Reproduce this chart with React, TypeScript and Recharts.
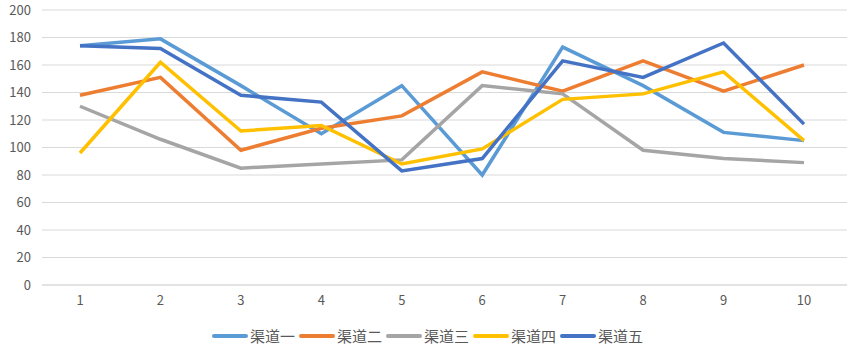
import {
  LineChart,
  Line,
  XAxis,
  YAxis,
  CartesianGrid,
  Legend,
} from "recharts";

const categories = ["1", "2", "3", "4", "5", "6", "7", "8", "9", "10"];

const channel1 = [174, 179, 145, 110, 145, 80, 173, 145, 111, 105];
const channel2 = [138, 151, 98, 114, 123, 155, 141, 163, 141, 160];
const channel3 = [130, 106, 85, 88, 91, 145, 139, 98, 92, 89];
const channel4 = [96, 162, 112, 116, 88, 99, 135, 139, 155, 105];
const channel5 = [174, 172, 138, 133, 83, 92, 163, 151, 176, 117];

const yTicks = [0, 20, 40, 60, 80, 100, 120, 140, 160, 180, 200];

const SERIES = [
  { key: "c1", name: "渠道一", color: "#5b9bd5", values: channel1 },
  { key: "c2", name: "渠道二", color: "#ed7d31", values: channel2 },
  { key: "c3", name: "渠道三", color: "#a5a5a5", values: channel3 },
  { key: "c4", name: "渠道四", color: "#ffc000", values: channel4 },
  { key: "c5", name: "渠道五", color: "#4472c4", values: channel5 },
];

const data = categories.map((cat, i) => {
  const row: Record<string, string | number> = { cat };
  SERIES.forEach((s) => {
    row[s.key] = s.values[i];
  });
  return row;
});

const FONT = "'Noto Sans CJK SC', 'Noto Sans', sans-serif";

// keep the legend in series order (recharts sorts its payload)
function LegendContent() {
  return (
    <div
      style={{
        display: "flex",
        justifyContent: "center",
        alignItems: "center",
        fontFamily: FONT,
        fontSize: 15,
        color: "#595959",
        paddingLeft: 10,
      }}
    >
      {SERIES.map((s) => (
        <div
          key={s.key}
          style={{ display: "flex", alignItems: "center", marginRight: 3 }}
        >
          <svg width={38} height={10}>
            <line
              x1={3}
              y1={5}
              x2={35}
              y2={5}
              stroke={s.color}
              strokeWidth={4}
              strokeLinecap="round"
            />
          </svg>
          <span style={{ marginLeft: 1 }}>{s.name}</span>
        </div>
      ))}
    </div>
  );
}

export default function App() {
  return (
    <div style={{ position: "absolute", left: 0, top: 0, background: "#fff" }}>
      <LineChart
        width={849}
        height={354}
        data={data}
        margin={{ top: 10, right: 2, bottom: 0, left: 0 }}
      >
        <CartesianGrid vertical={false} stroke="#d9d9d9" />
        <XAxis
          dataKey="cat"
          axisLine={{ stroke: "#d9d9d9" }}
          tickLine={false}
          tickSize={0}
          tickMargin={11}
          height={40}
          padding={{ left: 38, right: 43 }}
          interval={0}
          tick={{ fill: "#595959", fontSize: 13, fontFamily: FONT }}
        />
        <YAxis
          domain={[0, 200]}
          ticks={yTicks}
          axisLine={false}
          tickLine={false}
          tickSize={0}
          tickMargin={11}
          width={42}
          interval={0}
          tick={{ fill: "#595959", fontSize: 13, fontFamily: FONT }}
        />
        <Legend verticalAlign="bottom" height={29} content={<LegendContent />} />
        {SERIES.map((s) => (
          <Line
            key={s.key}
            type="linear"
            dataKey={s.key}
            name={s.name}
            stroke={s.color}
            strokeWidth={3.5}
            dot={false}
            activeDot={false}
            isAnimationActive={false}
          />
        ))}
      </LineChart>
    </div>
  );
}
